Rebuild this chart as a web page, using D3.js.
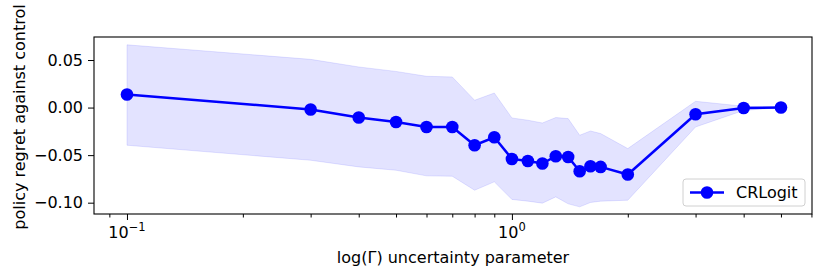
<!doctype html>
<meta charset="utf-8">
<title>Policy regret</title>
<style>
  body { margin: 0; background: #fff; }
  text { font-family: "DejaVu Sans", sans-serif; }
</style>
<svg id="visual" width="830" height="280"></svg>
<script src="https://cdn.jsdelivr.net/npm/d3@7"></script>
<script>

// (data)
var gammas = [0.1, 0.3, 0.4, 0.5, 0.6, 0.7, 0.8, 0.9, 1.0, 1.1, 1.2, 1.3, 1.4, 1.5, 1.6, 1.7, 2.0, 3.0, 4.0, 5.0];
var regret = [0.0137, -0.002, -0.0105, -0.0151, -0.0204, -0.0204, -0.0396, -0.0312, -0.054, -0.0561, -0.0588, -0.0512, -0.0519, -0.0669, -0.0617, -0.0624, -0.0704, -0.007, -0.0004, 0.0];
var upper = [0.066, 0.0507, 0.0427, 0.038, 0.0329, 0.0322, 0.0077, 0.0153, -0.0109, -0.0133, -0.0162, -0.0105, -0.0116, -0.0291, -0.0246, -0.0273, -0.0431, 0.0066, 0.0014, 0.0];
var lower = [-0.0396, -0.0554, -0.0624, -0.0659, -0.0718, -0.0722, -0.0869, -0.0781, -0.0966, -0.0984, -0.1005, -0.0939, -0.1012, -0.1044, -0.0998, -0.0984, -0.0974, -0.0204, -0.003, 0.0];
var yTicks = [0.05, 0.00, -0.05, -0.10];
var xTicks = [0.1, 1];
var seriesName = "CRLogit";

var rows = gammas.map(function(g, i) {
	return {x: g, y: regret[i], hi: upper[i], lo: lower[i]};
});

// (layout)
var plotL = 94, plotR = 812, plotT = 37, plotB = 214;
var svg = d3.select("#visual");

var x = d3.scaleLog().domain([0.0821, 6.02]).range([plotL, plotR]);
var y = d3.scaleLinear().domain([-0.1119, 0.0742]).range([plotB, plotT]);

// (band)
svg.append("path")
	.datum(rows)
	.attr("d", d3.area()
		.x(function(d) { return x(d.x); })
		.y0(function(d) { return y(d.lo); })
		.y1(function(d) { return y(d.hi); }))
	.attr("fill", "blue")
	.attr("fill-opacity", 0.11)
	.attr("stroke", "blue")
	.attr("stroke-opacity", 0.1)
	.attr("stroke-width", 1);

// (line)
svg.append("path")
	.datum(rows)
	.attr("d", d3.line()
		.x(function(d) { return x(d.x); })
		.y(function(d) { return y(d.y); }))
	.attr("fill", "none")
	.attr("stroke", "blue")
	.attr("stroke-width", 2.5);

svg.selectAll("circle.pt")
	.data(rows)
	.enter()
	.append("circle")
	.attr("class", "pt")
	.attr("cx", function(d) { return x(d.x); })
	.attr("cy", function(d) { return y(d.y); })
	.attr("r", 6.3)
	.attr("fill", "blue");

// (axes)
var yAxis = svg.append("g")
	.attr("transform", "translate(" + plotL + ",0)")
	.call(d3.axisLeft(y).tickValues(yTicks).tickSize(6).tickPadding(5)
		.tickFormat(function(d) { return d3.format(".2f")(d).replace("-", "\u2212"); }));

var minor = [];
[0.01, 0.1, 1].forEach(function(base) {
	for (var k = 2; k <= 9; k++) {
		var v = base * k;
		if (v >= 0.0821 && v <= 6.02) minor.push(v);
	}
});

svg.append("g")
	.attr("transform", "translate(0," + plotB + ")")
	.call(d3.axisBottom(x).tickValues(xTicks).tickSize(6).tickFormat(function() { return ""; }));

svg.append("g")
	.attr("transform", "translate(0," + plotB + ")")
	.call(d3.axisBottom(x).tickValues(minor).tickSize(3.5).tickFormat(function() { return ""; }));

svg.selectAll(".tick line").attr("stroke", "#000").attr("stroke-width", 1);
yAxis.selectAll("text").attr("font-size", 16).attr("fill", "#000").attr("font-family", "DejaVu Sans");
svg.selectAll(".domain").remove();

// x tick labels 10^e
xTicks.forEach(function(t) {
	var e = Math.round(Math.log10(t));
	var lbl = svg.append("text")
		.attr("x", x(t))
		.attr("y", plotB + 24)
		.attr("text-anchor", "middle")
		.attr("font-size", 16);
	lbl.append("tspan").text("10");
	lbl.append("tspan").attr("dy", -7).attr("font-size", 11.5)
		.text(e < 0 ? "\u2212" + Math.abs(e) : String(e));
});

// frame
svg.append("rect")
	.attr("x", plotL).attr("y", plotT)
	.attr("width", plotR - plotL).attr("height", plotB - plotT)
	.attr("fill", "none").attr("stroke", "#000").attr("stroke-width", 1.1);

// labels
svg.append("text")
	.attr("x", (plotL + plotR) / 2)
	.attr("y", 263)
	.attr("text-anchor", "middle")
	.attr("font-size", 16)
	.text("log(\u0393) uncertainty parameter");

svg.append("text")
	.attr("transform", "translate(25,117) rotate(-90)")
	.attr("text-anchor", "middle")
	.attr("font-size", 16)
	.text("policy regret against control");

// legend
var lg = svg.append("g").attr("transform", "translate(683,179)");
lg.append("rect")
	.attr("width", 122).attr("height", 27).attr("rx", 3)
	.attr("fill", "#fff").attr("fill-opacity", 0.8)
	.attr("stroke", "#d0d0d0");
lg.append("line")
	.attr("x1", 7).attr("x2", 41).attr("y1", 13.5).attr("y2", 13.5)
	.attr("stroke", "blue").attr("stroke-width", 2.5);
lg.append("circle").attr("cx", 24).attr("cy", 13.5).attr("r", 6.3).attr("fill", "blue");
lg.append("text").attr("x", 53).attr("y", 19).attr("font-size", 16).text(seriesName);

</script>
